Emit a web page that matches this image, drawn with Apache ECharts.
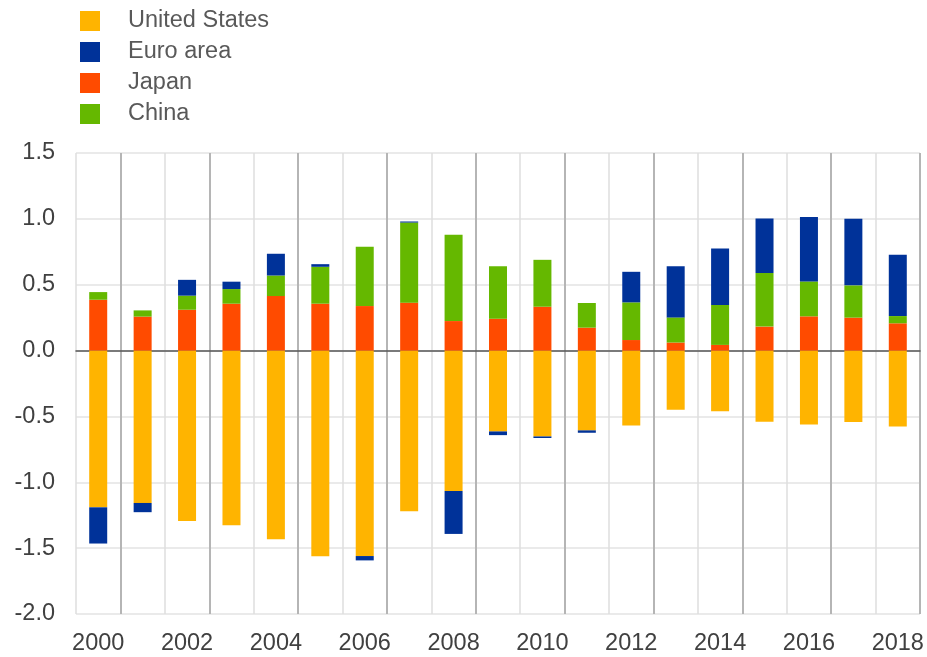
<!DOCTYPE html>
<html>
<head>
<meta charset="utf-8">
<script src="https://cdn.jsdelivr.net/npm/echarts@6/dist/echarts.min.js"></script>
<style>html,body{margin:0;padding:0;background:#fff}#c{width:927px;height:657px}</style>
</head>
<body>
<div id="c"></div>
<script>
const years = ['2000','2001','2002','2003','2004','2005','2006','2007','2008','2009','2010','2011','2012','2013','2014','2015','2016','2017','2018'];
const unitedStates = [-1.19,-1.157,-1.293,-1.326,-1.432,-1.561,-1.56,-1.22,-1.066,-0.614,-0.652,-0.606,-0.568,-0.45,-0.46,-0.541,-0.561,-0.543,-0.576];
const euroArea = [-0.275,-0.07,0.12,0.056,0.165,0.02,-0.033,0.008,-0.326,-0.028,-0.012,-0.018,0.232,0.389,0.429,0.414,0.49,0.505,0.465];
const japan = [0.386,0.258,0.31,0.356,0.414,0.356,0.338,0.364,0.224,0.242,0.333,0.174,0.08,0.061,0.043,0.182,0.26,0.25,0.207];
const china = [0.058,0.047,0.107,0.111,0.156,0.28,0.45,0.608,0.655,0.399,0.356,0.187,0.286,0.191,0.303,0.406,0.265,0.245,0.055];
const yTicks = {min: -2, max: 1.5, interval: 0.5};

const font = '"Liberation Sans", Arial, sans-serif';
const chart = echarts.init(document.getElementById('c'));
const mk = (name, data, color) => ({
  name, type: 'bar', stack: 'total', data, barWidth: 18,
  itemStyle: {color}, xAxisIndex: 0, yAxisIndex: 0
});
chart.setOption({
  animation: false,
  grid: {left: 76, right: 7, top: 153, bottom: 43, containLabel: false},
  legend: {
    orient: 'vertical', left: 75, top: 4, itemWidth: 20, itemHeight: 20, itemGap: 7,
    icon: 'rect',
    data: ['United States','Euro area','Japan','China'],
    textStyle: {fontFamily: font, fontSize: 23.5, lineHeight: 20, color: '#595959', padding: [0,0,0,23]}
  },
  xAxis: [
    {
      type: 'category', data: years, boundaryGap: true,
      axisLine: {onZero: true, lineStyle: {color: '#555', width: 1.5}},
      axisTick: {show: false},
      axisLabel: {interval: 1, fontFamily: font, fontSize: 23.5, color: '#404040', margin: 18},
      splitLine: {show: true, interval: 0, lineStyle: {color: '#dedede', width: 1.5}}
    },
    {
      type: 'category', data: years, boundaryGap: true, position: 'top',
      axisLine: {show: false}, axisTick: {show: false}, axisLabel: {show: false},
      splitLine: {show: true, interval: (i) => i % 2 === 1, lineStyle: {color: '#b5b5b5', width: 2}}
    }
  ],
  yAxis: {
    type: 'value', min: yTicks.min, max: yTicks.max, interval: yTicks.interval,
    axisLine: {show: false}, axisTick: {show: false},
    axisLabel: {fontFamily: font, fontSize: 23.5, color: '#404040', margin: 21, formatter: v => v.toFixed(1)},
    splitLine: {lineStyle: {color: '#e3e3e3', width: 1.5}}
  },
  series: [
    mk('United States', unitedStates, '#FFB400'),
    mk('Japan', japan, '#FF4B00'),
    mk('China', china, '#65B800'),
    mk('Euro area', euroArea, '#003299')
  ]
});
</script>
</body>
</html>
